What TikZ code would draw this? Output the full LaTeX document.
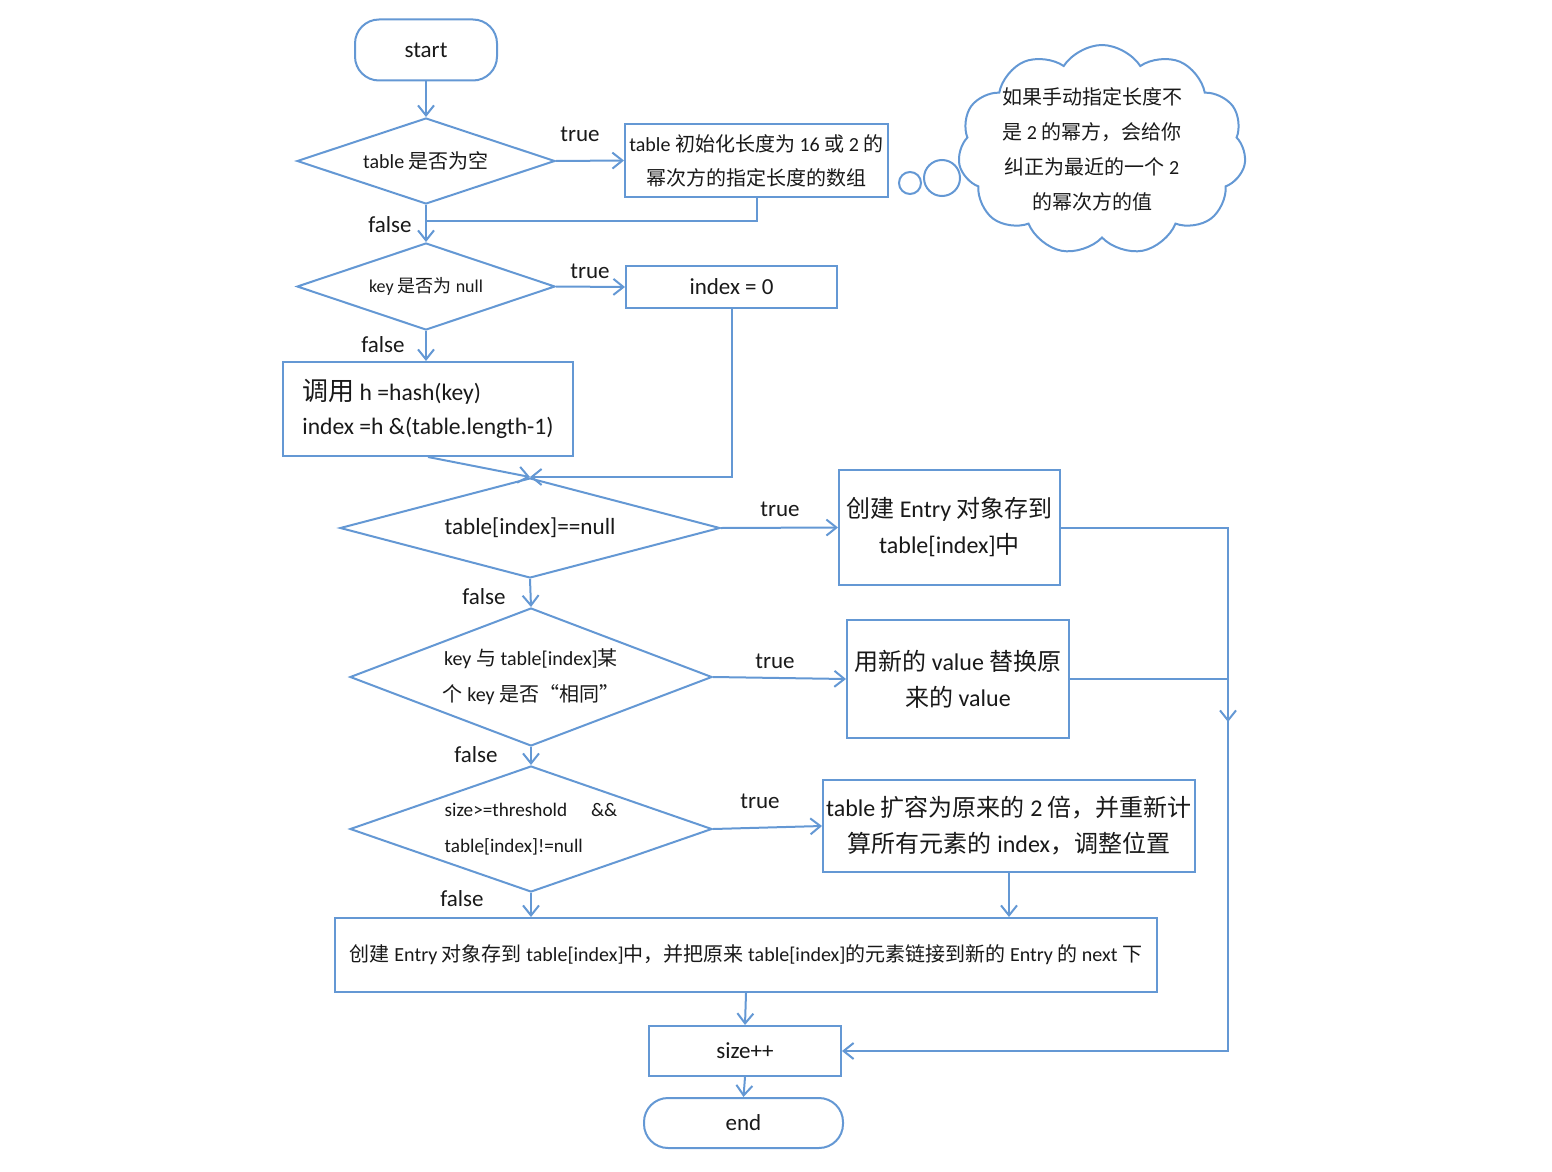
\documentclass[tikz,border=0pt]{standalone}
\usepackage{fontspec}
\setmainfont{Carlito}
\newfontfamily\cjk{Noto Sans CJK SC}
\newcommand\zh[1]{{\cjk #1}}
\usetikzlibrary{shapes.geometric,shapes.symbols,arrows.meta}
\definecolor{ln}{RGB}{100,152,212}
\definecolor{tx}{RGB}{25,25,25}
\begin{document}
\begin{tikzpicture}[x=0.5pt,y=-0.5pt,
  every node/.style={text=tx},
  base/.style={draw=ln, line width=1pt, fill=white},
  proc/.style={base, rectangle, align=center, inner sep=1pt},
  term/.style={base, rectangle, rounded corners=12pt, inner sep=1pt},
  dec/.style={base, diamond, align=center, inner sep=0pt},
  conn/.style={draw=ln, line width=1pt},
  arr/.style={conn, -{Straight Barb[length=5pt,width=8pt]}},
  lbl/.style={font=\fontsize{11.5}{14}\selectfont},
]
\path[use as bounding box] (0,0) rectangle (1552,1172);

% nodes
\node[term, minimum width=71pt, minimum height=30.5pt, font=\fontsize{11.5}{14}\selectfont] (start) at (426,50) {start};
\node[dec, shape aspect=3, minimum width=129pt, minimum height=43pt, font=\fontsize{10}{14}\selectfont] (d1) at (426,161) {table \zh{是否为空}};
\node[proc, minimum width=131.5pt, minimum height=36.5pt, font=\fontsize{10}{17}\selectfont] (init) at (756.5,160.5) {table \zh{初始化长度为} 16 \zh{或} 2 \zh{的}\\\zh{幂次方的指定长度的数组}};
\node[circle, draw=ln, line width=1pt, minimum size=11pt, inner sep=0pt] (b1) at (910,183) {};
\node[circle, draw=ln, line width=1pt, minimum size=18pt, inner sep=0pt] (b2) at (942,178) {};
\node[cloud, cloud puffs=11, cloud puff arc=115, cloud ignores aspect, draw=ln, line width=1pt, minimum width=144pt, minimum height=105pt] (cloud) at (1102,150) {};
\node[align=center, font=\fontsize{10}{17.5}\selectfont] (cloudtxt) at (1092,149) {\zh{如果手动指定长度不}\\\zh{是} 2 \zh{的幂方，会给你}\\\zh{纠正为最近的一个} 2\\\zh{的幂次方的值}};

\node[dec, shape aspect=3, minimum width=129pt, minimum height=43.5pt, font=\fontsize{9}{14}\selectfont] (d2) at (426,286.5) {key \zh{是否为} null};
\node[proc, minimum width=105.5pt, minimum height=21pt, font=\fontsize{11.5}{14}\selectfont] (idx0) at (731.5,287) {index = 0};
\node[proc, minimum width=145pt, minimum height=47pt, align=left, font=\fontsize{11.8}{17}\selectfont] (hash) at (428,409) {\zh{\fontsize{13}{17}\selectfont 调用} h =hash(key)\\index =h \&(table.length-1)};

\node[dec, shape aspect=3.8, minimum width=190pt, minimum height=50pt, font=\fontsize{11.6}{14}\selectfont] (d3) at (530,528) {table[index]==null};
\node[proc, minimum width=110.5pt, minimum height=57.5pt, font=\fontsize{12}{18}\selectfont] (entry) at (949.5,527.5) {\zh{创建} Entry \zh{对象存到}\\table[index]\zh{中}};

\node[dec, shape aspect=2.6, minimum width=181pt, minimum height=69pt, font=\fontsize{10}{18}\selectfont] (d4) at (531,677) {key \zh{与} table[index]\zh{某}\\\zh{个} key \zh{是否“相同”}};
\node[proc, minimum width=111pt, minimum height=59pt, font=\fontsize{12}{18}\selectfont] (repl) at (958,679) {\zh{用新的} value \zh{替换原}\\\zh{来的} value};

\node[dec, shape aspect=2.9, minimum width=181pt, minimum height=63pt, align=left, font=\fontsize{9.6}{18}\selectfont] (d5) at (531,829) {size>=threshold\hspace{12pt}\&\&\\table[index]!=null};
\node[proc, minimum width=186pt, minimum height=46pt, inner sep=0pt, font=\fontsize{12}{18}\selectfont] (expand) at (1009,826) {table \zh{扩容为原来的} 2 \zh{倍，并重新计}\\\zh{算所有元素的} index\zh{，调整位置}};

\node[proc, minimum width=411pt, minimum height=37pt, font=\fontsize{10}{14}\selectfont] (bottom) at (746,955) {\zh{创建} Entry \zh{对象存到} table[index]\zh{中，并把原来} table[index]\zh{的元素链接到新的} Entry \zh{的} next \zh{下}};
\node[proc, minimum width=96pt, minimum height=25pt, font=\fontsize{11.5}{14}\selectfont] (size) at (745,1051) {size++};
\node[term, minimum width=99.5pt, minimum height=25pt, font=\fontsize{11.5}{14}\selectfont] (end) at (743.5,1123) {end};

% labels
\node[lbl] (t1) at (580,134) {true};
\node[lbl] (f1) at (390,225) {false};
\node[lbl] (t2) at (590,271) {true};
\node[lbl] (f2) at (383,345) {false};
\node[lbl] (t3) at (780,509) {true};
\node[lbl] (f3) at (484,597) {false};
\node[lbl] (t4) at (775,661) {true};
\node[lbl] (f4) at (476,755) {false};
\node[lbl] (t5) at (760,801) {true};
\node[lbl] (f5) at (462,899) {false};

% connectors
\coordinate (j1) at (426,221);
\coordinate (rc) at (1228,527);
\coordinate (mid) at (1228,722);
\draw[arr] (start.south) -- (d1.north);
\draw[arr] (d1.east) -- (init.west);
\draw[conn] (init.south) |- (j1);
\draw[arr] (d1.south) -- (d2.north);
\draw[arr] (d2.east) -- (idx0.west);
\draw[arr] (d2.south) -- (d2.south |- hash.north);
\draw[arr] (hash.south) -- (d3.north);
\draw[arr] (idx0.south) |- (d3.north);
\draw[arr] (d3.east) -- (entry.west);
\draw[arr] (d3.south) -- (d4.north);
\draw[arr] (d4.east) -- (repl.west);
\draw[arr] (d4.south) -- (d5.north);
\draw[arr] (d5.east) -- (expand.west);
\draw[arr] (d5.south) -- (d5.south |- bottom.north);
\draw[arr] (expand.south) -- (expand.south |- bottom.north);
\draw[arr] (bottom.south) -- (size.north);
\draw[arr] (size.south) -- (end.north);
\draw[arr] (entry.east) -- (entry.east -| rc) -- (rc |- size.east) -- (size.east);
\draw[conn] (repl.east) -- (repl.east -| rc);
\draw[arr] (rc |- repl.east) -- (mid);
\end{tikzpicture}
\end{document}
